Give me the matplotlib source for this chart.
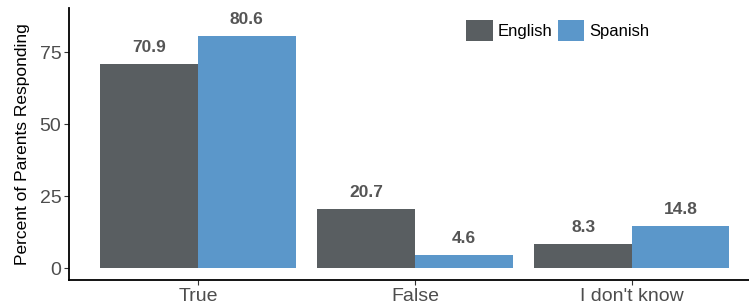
import numpy as np
import matplotlib.pyplot as plt

categories = ["True", "False", "I don't know"]
english = [70.9, 20.7, 8.3]
spanish = [80.6, 4.6, 14.8]
series_names = ["English", "Spanish"]
colors = ["#595e61", "#5b97ca"]

plt.rcParams['font.family'] = ['Liberation Sans', 'DejaVu Sans']

fig = plt.figure(figsize=(7.49, 3.05), dpi=100)
ax = fig.add_axes([69 / 749, 25 / 305, 680 / 749, 272 / 305])

x = np.arange(len(categories))
w = 0.45
for i, (vals, name) in enumerate(zip([english, spanish], series_names)):
    pos = x + (i - 0.5) * w
    ax.bar(pos, vals, width=w, color=colors[i], label=name)
    for p, v in zip(pos, vals):
        ax.annotate(f"{v}", (p, v), xytext=(0, 8.5), textcoords="offset points",
                    ha="center", va="baseline", fontsize=12.5, fontweight="bold",
                    color="#555555")

ax.set_xlim(-0.595, 2.54)
ax.set_ylim(-4.1, 90.3)
ax.set_xticks(x)
ax.set_xticklabels(categories, fontsize=14, color="#4d4d4d")
ax.set_yticks([0, 25, 50, 75])
ax.set_yticklabels(["0", "25", "50", "75"], fontsize=14, color="#4d4d4d")
ax.set_ylabel("Percent of Parents Responding", fontsize=12.5, color="black",
              labelpad=7)
ax.tick_params(axis="both", color="#333333", length=3.5, width=0.8, pad=2)

for s in ["top", "right"]:
    ax.spines[s].set_visible(False)
for s in ["left", "bottom"]:
    ax.spines[s].set_linewidth(1.3)
    ax.spines[s].set_color("black")

ax.legend(loc="upper left", bbox_to_anchor=(0.584, 0.955), ncol=2, frameon=False,
          fontsize=12, handlelength=1.6, handleheight=1.55, columnspacing=0.3,
          handletextpad=0.3, borderpad=0, borderaxespad=0)

fig.savefig("out.png", dpi=100)
